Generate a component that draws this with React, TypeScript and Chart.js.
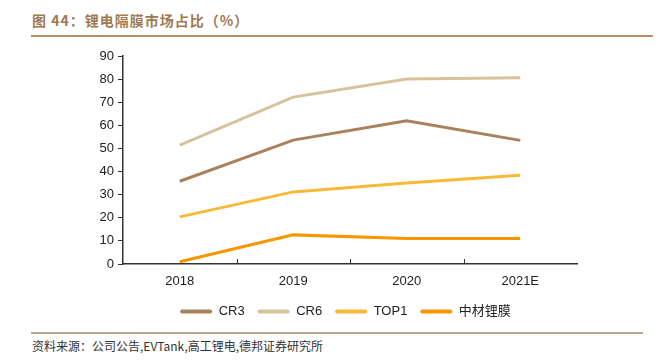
import React, { useEffect, useRef } from "react";
import { Chart, registerables } from "chart.js";

Chart.register(...registerables);

const categories = ["2018", "2019", "2020", "2021E"];
const cr3 = [35.8, 53.6, 62.0, 53.5];
const cr6 = [51.4, 72.2, 80.0, 80.6];
const top1 = [20.4, 31.2, 35.0, 38.4];
const zhongcai = [1.0, 12.6, 11.0, 11.0];
const yTicks = [0, 10, 20, 30, 40, 50, 60, 70, 80, 90];

const innerTicks = {
  id: "innerTicks",
  afterDraw(chart: any) {
    const x = chart.scales.x;
    const bottom = chart.chartArea.bottom;
    const ctx = chart.ctx;
    ctx.save();
    ctx.strokeStyle = "#333";
    ctx.lineWidth = 1;
    for (let i = 1; i < categories.length; i++) {
      const px = Math.round((x.getPixelForValue(i - 1) + x.getPixelForValue(i)) / 2) + 0.5;
      ctx.beginPath();
      ctx.moveTo(px, bottom);
      ctx.lineTo(px, bottom - 5);
      ctx.stroke();
    }
    ctx.restore();
  },
};

const shiftLegend = {
  id: "shiftLegend",
  afterLayout(chart: any) {
    const lg = chart.legend;
    if (!lg) return;
    lg.left += 57;
    lg.right += 57;
  },
};

export default function App() {
  const ref = useRef<HTMLCanvasElement | null>(null);
  useEffect(() => {
    if (!ref.current) return;
    const mk = (label: string, data: number[], color: string) => ({
      label,
      data,
      borderColor: color,
      backgroundColor: color,
      borderWidth: 3,
      pointRadius: 0,
      tension: 0,
      fill: false,
    });
    const chart = new Chart(ref.current, {
      type: "line",
      data: {
        labels: categories,
        datasets: [
          mk("CR3", cr3, "#A8825C"),
          mk("CR6", cr6, "#D6C39E"),
          mk("TOP1", top1, "#F8B936"),
          mk("中材锂膜", zhongcai, "#F89600"),
        ],
      },
      options: {
        animation: false,
        responsive: false,
        maintainAspectRatio: false,
        layout: { padding: { left: 0, right: 84, top: 16, bottom: 2 } },
        plugins: {
          tooltip: { enabled: false },
          legend: {
            position: "bottom",
            labels: {
              boxWidth: 32,
              boxHeight: 4,
              padding: 13,
              color: "#222",
              useBorderRadius: true,
              borderRadius: 2,
              font: { size: 13, family: "'Liberation Sans', 'Noto Sans CJK SC', sans-serif" },
              generateLabels: (c: any) =>
                Chart.defaults.plugins.legend.labels.generateLabels(c).map((l: any) => ({
                  ...l,
                  lineWidth: 0,
                })),
            },
          },
        },
        scales: {
          x: {
            offset: true,
            grid: { display: false, drawTicks: false },
            border: { display: true, color: "#333", width: 1.5 },
            ticks: {
              color: "#222",
              padding: 10,
              font: { size: 13, family: "'Liberation Sans', sans-serif" },
            },
            afterFit: (s: any) => {
              s.height = 28;
            },
          },
          y: {
            min: 0,
            max: 90,
            afterBuildTicks: (s: any) => {
              s.ticks = yTicks.map((v) => ({ value: v }));
            },
            grid: { drawOnChartArea: false, drawTicks: true, tickLength: 5, color: "#333" },
            border: { display: true, color: "#333", width: 1.5 },
            ticks: {
              color: "#222",
              padding: 4,
              font: { size: 13, family: "'Liberation Sans', sans-serif" },
            },
            afterFit: (s: any) => {
              s.width = 123;
            },
          },
        },
      },
      plugins: [innerTicks, shiftLegend],
    });
    return () => chart.destroy();
  }, []);

  return (
    <div style={{ position: "fixed", left: 0, top: 0, width: 661, height: 360, background: "#fff" }}>
      <div
        style={{
          position: "absolute",
          left: 32,
          top: 11,
          fontFamily: "'Noto Sans CJK SC', sans-serif",
          fontWeight: 700,
          fontSize: 14,
          color: "#A07A52",
          letterSpacing: 1,
          lineHeight: "18px",
        }}
      >
        图 44：锂电隔膜市场占比（%）
      </div>
      <div style={{ position: "absolute", left: 31, top: 35, width: 622, height: 2, background: "#B88C66" }} />
      <canvas ref={ref} width={661} height={290} style={{ position: "absolute", left: 0, top: 40 }} />
      <div style={{ position: "absolute", left: 31, top: 332, width: 612, height: 1.5, background: "#C0A38C" }} />
      <div
        style={{
          position: "absolute",
          left: 32,
          top: 338,
          fontFamily: "'Noto Sans CJK SC', sans-serif",
          fontSize: 12,
          color: "#333",
          lineHeight: "16px",
        }}
      >
        资料来源：公司公告,EVTank,高工锂电,德邦证券研究所
      </div>
    </div>
  );
}
